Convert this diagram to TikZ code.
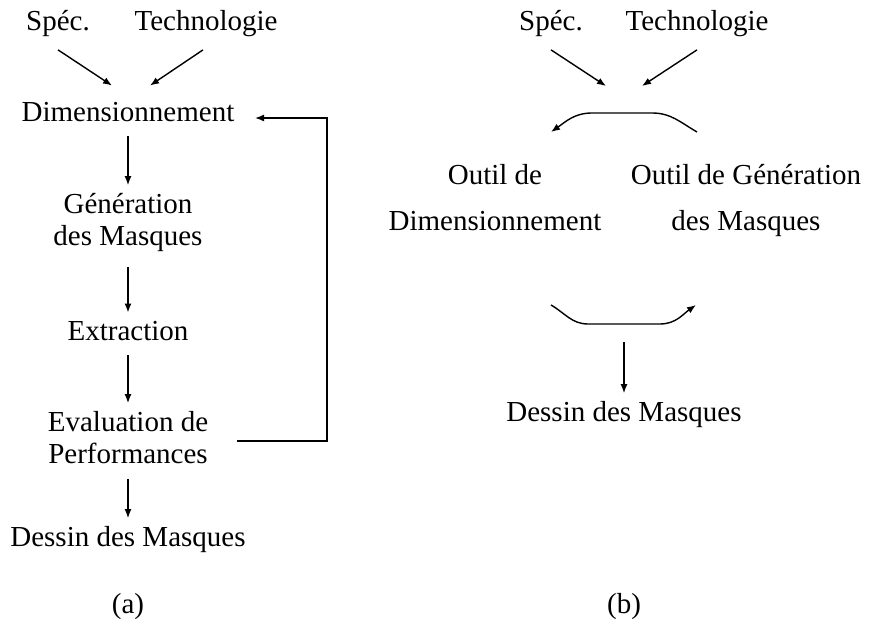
\documentclass[tikz,border=0pt]{standalone}
\usepackage{fontspec}
\setmainfont{Liberation Serif}
\usetikzlibrary{arrows.meta,positioning,calc}

\begin{document}
\begin{tikzpicture}[x=0.5pt, y=-0.5pt, >={Latex[length=4.5pt,width=3.5pt]},
  line width=0.7pt, font=\fontsize{14.5}{16}\selectfont,
  every node/.style={align=center, inner sep=1pt},
  flow/.style={->, shorten <=6pt, shorten >=3pt}]
  \useasboundingbox (0,0) rectangle (869,619);

  % (a) : flot sequentiel
  \node (specA) at (58,24) {Spéc.};
  \node (techA) at (206,24) {Technologie};
  \node (dimA)  at (128,112) {Dimensionnement};
  \node (genA)  at (128,223) {Génération\\des Masques};
  \node (extA)  at (128,331) {Extraction};
  \node (evalA) at (128,438) {Evaluation de\\Performances};
  \node (dessA) at (128,540) {Dessin des Masques};
  \node (capA)  at (128,607) {(a)};

  \draw[->] ([yshift=-5pt]specA.south) -- ([xshift=-8pt,yshift=7pt]dimA.north);
  \draw[->] ([xshift=-1.5pt,yshift=-5pt]techA.south) -- ([xshift=11pt,yshift=7pt]dimA.north);
  \draw[flow] (dimA) -- (genA);
  \draw[flow] (genA) -- (extA);
  \draw[flow] (extA) -- (evalA);
  \draw[flow] (evalA) -- (dessA);

  \coordinate (fbOut) at (237,441);
  \coordinate (fbIn)  at (255,118);
  \coordinate (fbX)   at (327,0);
  \draw[->] (fbOut) -- (fbOut -| fbX) |- (fbIn);

  % (b) : outils couples
  \node (specB)    at (551,24) {Spéc.};
  \node (techB)    at (697,24) {Technologie};
  \node (outilDim) at (495,198) {Outil de\\[7pt]Dimensionnement};
  \node (outilGen) at (746,201) {Outil de Génération\\[7pt]des Masques};
  \node (dessB)    at (624,415) {Dessin des Masques};
  \node (capB)     at (624,607) {(b)};

  \coordinate (joinB)  at (624,86);
  \draw[->] ([yshift=-5pt]specB.south) -- ([xshift=-9pt]joinB);
  \draw[->] ([yshift=-5pt]techB.south) -- ([xshift=9pt]joinB);

  \coordinate (topR) at (697,132);
  \coordinate (topL) at (551,132);
  \draw[->] (topR) to[out=150,in=0] (652,113) -- (592,113) to[out=180,in=35] (topL);

  \coordinate (botL) at (551,305);
  \coordinate (botR) at (696,305);
  \draw[->] (botL) to[out=-30,in=180] (588,324) -- (660,324) to[out=0,in=-145] (botR);

  \coordinate (splitB) at (624,342);
  \draw[->, shorten >=3pt] (splitB) -- (dessB);
\end{tikzpicture}
\end{document}
